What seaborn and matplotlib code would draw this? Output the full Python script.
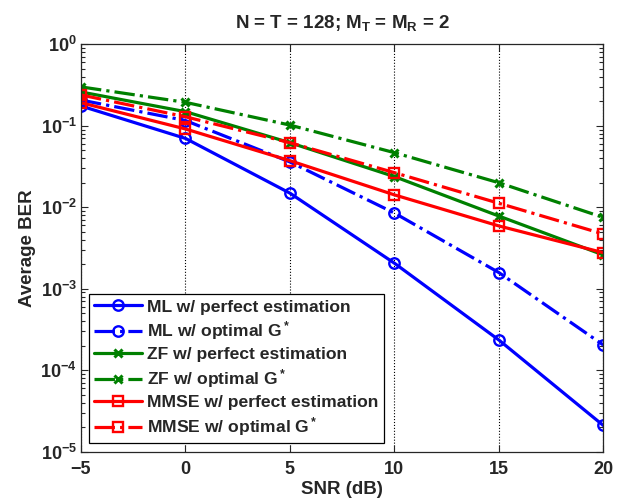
import numpy as np
import pandas as pd
import matplotlib
matplotlib.use("Agg")
import matplotlib.pyplot as plt
import seaborn as sns
from matplotlib.ticker import LogLocator

snr = [-5, 0, 5, 10, 15, 20]
ml_perfect = [0.175, 0.070, 0.0149, 0.00206, 2.35e-4, 2.1e-5]
ml_optimal = [0.207, 0.116, 0.036, 0.0085, 0.00158, 2.04e-4]
zf_perfect = [0.26, 0.149, 0.062, 0.0238, 0.0078, 0.0026]
zf_optimal = [0.30, 0.194, 0.102, 0.0468, 0.020, 0.0075]
mmse_perfect = [0.192, 0.0914, 0.0373, 0.0142, 0.0059, 0.00277]
mmse_optimal = [0.239, 0.129, 0.062, 0.0266, 0.0112, 0.0047]

labels = ["ML w/ perfect estimation", r"ML w/ optimal G$^*$",
          "ZF w/ perfect estimation", r"ZF w/ optimal G$^*$",
          "MMSE w/ perfect estimation", r"MMSE w/ optimal G$^*$"]

sns.set_style("ticks")
plt.rcParams["font.family"] = ["Liberation Sans", "DejaVu Sans"]
plt.rcParams["font.weight"] = "bold"
plt.rcParams["mathtext.fontset"] = "custom"
plt.rcParams["mathtext.rm"] = "Liberation Sans:bold"
plt.rcParams["mathtext.it"] = "Liberation Sans:bold"
plt.rcParams["mathtext.bf"] = "Liberation Sans:bold"
plt.rcParams["mathtext.default"] = "rm"

fig = plt.figure(figsize=(6.26, 5.01), dpi=100)
ax = fig.add_axes([81/626, 1-451.7/501, (603.3-81)/626, (451.7-44.3)/501])

series = [ml_perfect, ml_optimal, zf_perfect, zf_optimal, mmse_perfect, mmse_optimal]
colors = ["#0000ff", "#0000ff", "#008000", "#008000", "#ff0000", "#ff0000"]
styles = ["-", "-.", "-", "-.", "-", "-."]
markers = ["o", "o", "x", "x", "s", "s"]
msizes = [7.5, 7.5, 5.5, 5.5, 7.5, 7.5]
mews = [1.7, 1.7, 2.2, 2.2, 1.7, 1.7]

for vals, lab, c, ls, m, ms, mew in zip(series, labels, colors, styles, markers, msizes, mews):
    df = pd.DataFrame({"SNR": snr, "BER": vals})
    sns.lineplot(data=df, x="SNR", y="BER", ax=ax, color=c, linestyle=ls,
                 marker=m, markersize=ms, markerfacecolor="none",
                 markeredgecolor=c, markeredgewidth=mew, linewidth=2.3,
                 label=lab)

ax.set_yscale("log")
ax.set_xlim(-5, 20)
ax.set_ylim(1e-5, 1)
ax.set_xticks([-5, 0, 5, 10, 15, 20])
ax.yaxis.set_major_locator(LogLocator(base=10, numticks=10))
ax.yaxis.set_minor_locator(LogLocator(base=10, subs=np.arange(2, 10), numticks=20))
ax.grid(axis="x", linestyle=":", color="black", linewidth=0.8)
ax.tick_params(which="both", direction="in", top=True, right=True, labelsize=13, width=0.8)
ax.tick_params(axis="y", which="major", pad=3)
ax.tick_params(axis="x", which="major", pad=7)
ax.tick_params(which="major", length=5)
ax.tick_params(which="minor", length=3)
for sp in ax.spines.values():
    sp.set_linewidth(0.9)
    sp.set_visible(True)
for lbl in ax.get_xticklabels() + ax.get_yticklabels():
    lbl.set_fontweight("bold")

ax.set_xlabel("SNR (dB)", fontsize=13.5, fontweight="bold", labelpad=2)
ax.set_ylabel("Average BER", fontsize=13.5, fontweight="bold", labelpad=3)
ax.set_title(r"N = T = 128; M$_\mathrm{T}$ = M$_\mathrm{R}$ = 2", fontsize=13.5, fontweight="bold", pad=11.5)

leg = ax.legend(loc="lower left", fontsize=12.6, handlelength=2.7, handletextpad=0.33,
                borderaxespad=0.47, fancybox=False, edgecolor="black", framealpha=1,
                labelspacing=0.28, borderpad=0.3)
leg.get_frame().set_linewidth(0.9)
for t in leg.get_texts():
    t.set_fontweight("bold")

fig.savefig("out.png", dpi=100)
